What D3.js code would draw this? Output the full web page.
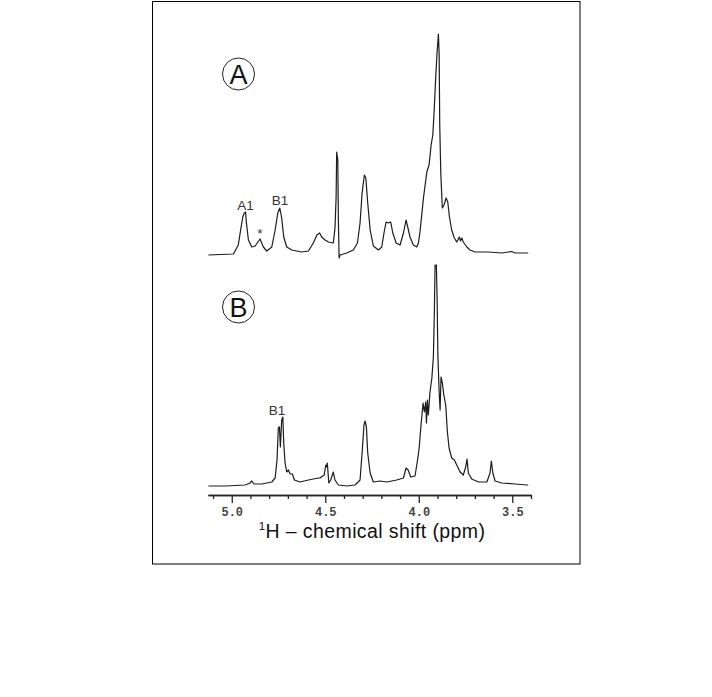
<!DOCTYPE html>
<html>
<head>
<meta charset="utf-8">
<script src="https://cdn.jsdelivr.net/npm/d3@7"></script>
<style>
  html, body { margin: 0; padding: 0; background: #fff; }
  svg { display: block; }
</style>
</head>
<body>
<svg id="chart" width="712" height="697"></svg>
<script>
// ---- data ----
// Spectrum A: chemical shift (ppm) and intensity (arbitrary units)
const ppmA = [5.125, 4.991, 4.965, 4.950, 4.941, 4.933, 4.926, 4.922, 4.911, 4.893,
  4.875, 4.849, 4.831, 4.813, 4.786, 4.768, 4.754, 4.743, 4.733, 4.722,
  4.706, 4.679, 4.626, 4.590, 4.564, 4.545, 4.530, 4.519, 4.501, 4.483, 4.457,
  4.448, 4.442, 4.439, 4.433, 4.430, 4.426, 4.421, 4.385, 4.350, 4.328,
  4.314, 4.303, 4.291, 4.283, 4.273, 4.260, 4.243, 4.216, 4.198, 4.186,
  4.175, 4.163, 4.150, 4.139, 4.121, 4.100, 4.082, 4.068, 4.059, 4.047,
  4.029, 4.011, 4.002, 3.993, 3.975, 3.957, 3.945, 3.934, 3.925, 3.917,
  3.909, 3.902, 3.895, 3.891, 3.888, 3.882, 3.874, 3.865, 3.854, 3.845,
  3.836, 3.824, 3.810, 3.797, 3.783, 3.777, 3.770, 3.762, 3.743, 3.726,
  3.699, 3.628, 3.556, 3.503, 3.485, 3.422, 3.415];
const intA = [0, 1, 10, 28, 38, 42, 43, 33, 15, 8,
  9, 16, 8, 4, 8, 25, 42, 47, 37, 18,
  8, 5, 3, 4, 12, 20, 22, 18, 15, 13, 12,
  27, 58, 103, 95, 35, -3, 0, 2, 5, 12,
  32, 62, 80, 77, 52, 25, 9, 5, 8, 22,
  33, 32, 33, 22, 12, 10, 22, 35, 28, 18,
  10, 8, 12, 24, 57, 83, 90, 110, 120, 147,
  180, 203, 221, 200, 130, 80, 47, 50, 57, 53,
  38, 25, 17, 13, 18, 14, 17, 13, 8, 5,
  3, 3, 2, 3.5, 2, 2, 2];

// Spectrum B
const ppmB = [5.125, 5.036, 4.929, 4.902, 4.893, 4.881, 4.840, 4.786, 4.768, 4.758,
  4.751, 4.745, 4.740, 4.733, 4.727, 4.722, 4.715, 4.706, 4.697, 4.688,
  4.676, 4.665, 4.635, 4.590, 4.537, 4.528, 4.506, 4.497, 4.492, 4.489,
  4.481, 4.471, 4.457, 4.448, 4.430, 4.385, 4.341, 4.314, 4.302, 4.293,
  4.287, 4.280, 4.273, 4.260, 4.243, 4.207, 4.171, 4.118, 4.082, 4.068,
  4.057, 4.043, 4.020, 4.005, 3.998, 3.988, 3.977, 3.970, 3.963, 3.959,
  3.954, 3.949, 3.940, 3.930, 3.922, 3.917, 3.913, 3.906, 3.902, 3.898,
  3.891, 3.886, 3.881, 3.874, 3.866, 3.856, 3.847, 3.838, 3.824, 3.810,
  3.797, 3.779, 3.762, 3.749, 3.742, 3.735, 3.717, 3.681, 3.636, 3.619,
  3.612, 3.604, 3.592, 3.556, 3.485, 3.422, 3.415];
const intB = [0, 0, 1, 3, 5, 2, 2, 4, 8, 26,
  58, 59, 39, 66, 69, 43, 23, 14, 16, 12,
  12, 6, 4, 6, 8, 8, 11, 21, 19, 23,
  3, 6, 14, 6, 1, 0, 1, 6, 36, 61,
  65, 59, 33, 13, 4, 5, 4, 6, 8, 18,
  16, 9, 10, 28, 38, 61, 83, 74, 84, 63,
  86, 71, 94, 108, 129, 171, 221, 221, 188, 131,
  94, 76, 109, 103, 91, 81, 54, 38, 28, 26,
  21, 14, 11, 19, 27, 13, 7, 4, 4, 13,
  25, 13, 5, 3, 2, 1, 1];

// Axis ticks
const majorTicks = [5.0, 4.5, 4.0, 3.5];
const tickLabels = ["5.0", "4.5", "4.0", "3.5"];
const minorTicks = [5.1, 4.9, 4.8, 4.7, 4.6, 4.4, 4.3, 4.2, 4.1, 3.9, 3.8, 3.7, 3.6, 3.4];

// Annotations
const panelLabels = ["A", "B"];
const peakLabelsA = [{text: "A1", ppm: 4.926}, {text: "*", ppm: 4.850}, {text: "B1", ppm: 4.742}];
const peakLabelsB = [{text: "B1", ppm: 4.758}];
const axisTitle = "H \u2013 chemical shift (ppm)";

// ---- drawing ----
const svg = d3.select("#chart");

// frame
svg.append("rect")
  .attr("x", 152.5).attr("y", 1.5)
  .attr("width", 427.5).attr("height", 562.5)
  .attr("fill", "none").attr("stroke", "#000").attr("stroke-width", 1);

const x = d3.scaleLinear().domain([5.127, 3.4]).range([208, 531]);
const yA = d3.scaleLinear().domain([0, 221]).range([255, 34]);
const yB = d3.scaleLinear().domain([0, 221]).range([486, 265]);

function drawSpectrum(ppm, inten, y) {
  const pts = d3.zip(ppm, inten);
  const line = d3.line().x(d => x(d[0])).y(d => y(d[1]));
  svg.append("path")
    .datum(pts)
    .attr("d", line)
    .attr("fill", "none")
    .attr("stroke", "#1c1c1c")
    .attr("stroke-width", 1.2)
    .attr("stroke-linejoin", "round");
}
drawSpectrum(ppmA, intA, yA);
drawSpectrum(ppmB, intB, yB);

// panel labels in circles
const panelPos = [{cy: 74}, {cy: 307}];
panelLabels.forEach((lab, i) => {
  const g = svg.append("g").attr("transform", `translate(238.5,${panelPos[i].cy})`);
  g.append("circle").attr("r", 16).attr("fill", "none")
    .attr("stroke", "#222").attr("stroke-width", 1);
  g.append("text").text(lab)
    .attr("text-anchor", "middle")
    .attr("y", 9.5)
    .attr("font-family", "Liberation Sans, Arial, sans-serif")
    .attr("font-size", 27)
    .attr("fill", "#111");
});

// peak labels
peakLabelsA.forEach(p => {
  svg.append("text").text(p.text)
    .attr("x", x(p.ppm))
    .attr("y", p.text === "*" ? 238 : (p.text === "A1" ? 209.5 : 205))
    .attr("text-anchor", "middle")
    .attr("font-family", "Liberation Sans, Arial, sans-serif")
    .attr("font-size", 13.5)
    .attr("fill", "#333");
});
peakLabelsB.forEach(p => {
  svg.append("text").text(p.text)
    .attr("x", x(p.ppm))
    .attr("y", 414.5)
    .attr("text-anchor", "middle")
    .attr("font-family", "Liberation Sans, Arial, sans-serif")
    .attr("font-size", 13.5)
    .attr("fill", "#333");
});

// axes
const axisY = 495;
const minorAxis = d3.axisBottom(x).tickValues(minorTicks).tickSize(4).tickSizeOuter(0).tickFormat("");
const majorAxis = d3.axisBottom(x).tickValues(majorTicks).tickSize(8).tickSizeOuter(0).tickPadding(4)
  .tickFormat((d, i) => tickLabels[i]);

const gMinor = svg.append("g").attr("transform", `translate(0,${axisY})`).call(minorAxis);
const gMajor = svg.append("g").attr("transform", `translate(0,${axisY})`).call(majorAxis);
[gMinor, gMajor].forEach(g => {
  g.selectAll("path.domain").attr("stroke", "#222").attr("stroke-width", 1.5);
  g.selectAll(".tick line").attr("stroke", "#222").attr("stroke-width", 1.3);
});
gMajor.selectAll(".tick text")
  .attr("font-family", "Liberation Mono, DejaVu Sans Mono, monospace")
  .attr("font-weight", "bold")
  .attr("font-size", 12)
  .attr("fill", "#444");

// axis title with superscript 1
const title = svg.append("text")
  .attr("x", 372).attr("y", 537.5)
  .attr("text-anchor", "middle")
  .attr("font-family", "Liberation Sans, Arial, sans-serif")
  .attr("font-size", 19.5)
  .attr("letter-spacing", 0.4)
  .attr("fill", "#111");
title.append("tspan").text("1").attr("font-size", 11.5).attr("dy", -8);
title.append("tspan").text(axisTitle).attr("dy", 8);
</script>
</body>
</html>
